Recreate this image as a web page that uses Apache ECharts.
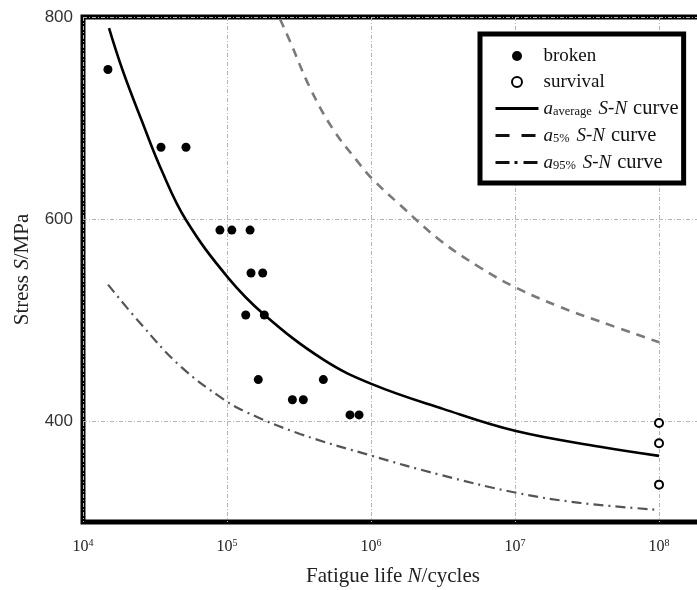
<!DOCTYPE html>
<html><head><meta charset="utf-8">
<script src="https://cdn.jsdelivr.net/npm/echarts@6/dist/echarts.min.js"></script>
<style>html,body{margin:0;padding:0;background:#fff}#c{width:697px;height:590px}</style>
</head><body><div id="c"></div>
<script>
// ---- data ----
const brokenLife   = [14900, 34800, 51900, 89300, 108000, 144600, 146800, 177000, 134900, 181600, 164900, 466500, 284500, 338800, 714600, 826000];
const brokenStress = [748, 671, 671, 589, 589, 589, 546.5, 546.5, 505, 505, 441, 441, 421, 421, 406, 406];
const survivalLife   = [1e8, 1e8, 1e8];
const survivalStress = [398, 378, 337];
const avgLife   = [15160, 18870, 25560, 35200, 51920, 101600, 180700, 464200, 1016000, 3162000, 1.016e7, 3.89e7, 1.0e8];
const avgStress = [789, 747, 697.5, 648, 599, 542, 505.5, 461, 436.5, 412, 390, 374.5, 365.5];
const p5Life   = [233500, 273800, 376700, 544300, 795600, 1016000, 1589000, 3013000, 5710000, 1.016e7, 2.05e7, 3.89e7, 1.0e8];
const p5Stress = [798, 776, 730, 689, 658, 640, 614, 579, 552, 532, 513, 498.5, 478];
const p95Life   = [14930, 24900, 47200, 94160, 137000, 321400, 1016000, 3010000, 1.016e7, 2.82e7, 1.0e8];
const p95Stress = [535, 497, 454.5, 421.7, 408.6, 387.2, 365.5, 346.8, 329, 319, 312];
const yTickLabels = [400, 600, 800];

const zip = (a, b) => a.map((v, i) => [v, b[i]]);
const serif = 'Liberation Serif';

const legendLabels = {
  broken: 'broken',
  survival: 'survival',
  average: '{i|a}{sub|average} {i|S}-{i|N}{c|curve}',
  p5: '{i|a}{sub|5%} {i|S}-{i|N}{c|curve}',
  p95: '{i|a}{sub|95%} {i|S}-{i|N}{c|curve}'
};

const hiddenDot = {opacity: 0};

const chart = echarts.init(document.getElementById('c'), null, {renderer: 'canvas'});
chart.setOption({
  animation: false,
  backgroundColor: '#fff',
  grid: {left: 83, top: 17, width: 630, bottom: 68, show: true, borderColor: '#000', borderWidth: 5,
         backgroundColor: 'transparent', containLabel: false, outerBoundsMode: 'none'},
  xAxis: {
    type: 'log', logBase: 10, min: 1e4, max: 2.371e8,
    axisLine: {show: false}, axisTick: {show: false},
    splitLine: {show: true, lineStyle: {color: '#b5b5b5', width: 1, type: [4, 2, 1, 2]}},
    axisLabel: {
      margin: 16,
      formatter: v => {
        const e = Math.log10(v);
        if (Math.abs(e - Math.round(e)) > 0.01) return '';
        return '{b|10}{s|' + Math.round(e) + '}';
      },
      rich: {
        b: {fontFamily: serif, fontSize: 16, color: '#222', lineHeight: 18},
        s: {fontFamily: serif, fontSize: 10, color: '#222', lineHeight: 10, verticalAlign: 'top'}
      }
    },
    name: '{n|Fatigue life }{i|N}{n|/cycles}',
    nameLocation: 'middle', nameGap: 44,
    nameTextStyle: {
      padding: [0, 10, 0, 0],
      rich: {
        n: {fontFamily: serif, fontSize: 21, color: '#222'},
        i: {fontFamily: serif, fontSize: 21, color: '#222', fontStyle: 'italic'}
      }
    }
  },
  yAxis: {
    type: 'value', min: 300, max: 800, interval: 100,
    axisLine: {show: false}, axisTick: {show: false},
    splitLine: {show: true, lineStyle: {color: ['rgba(0,0,0,0)', '#b5b5b5'], width: 1, type: [4, 2, 1, 2]}},
    axisLabel: {
      margin: 10,
      fontFamily: 'Liberation Sans', fontSize: 17, color: '#333',
      formatter: v => yTickLabels.indexOf(v) >= 0 ? String(v) : ''
    },
    name: '{n|Stress }{i|S}{n|/MPa}',
    nameLocation: 'middle', nameGap: 50,
    nameTextStyle: {
      rich: {
        n: {fontFamily: serif, fontSize: 21, color: '#222'},
        i: {fontFamily: serif, fontSize: 21, color: '#222', fontStyle: 'italic'}
      }
    }
  },
  legend: {
    orient: 'vertical', left: 480, top: 34, align: 'left',
    padding: [12, 5, 10, 14],
    borderColor: '#000', borderWidth: 5, backgroundColor: '#fff',
    itemWidth: 43, itemHeight: 10, itemGap: 6,
    textStyle: {
      fontFamily: serif, fontSize: 19, color: '#111', lineHeight: 20,
      rich: {
        i: {fontFamily: serif, fontSize: 19, fontStyle: 'italic', color: '#111', lineHeight: 20},
        sub: {fontFamily: serif, fontSize: 12.5, color: '#111', lineHeight: 12, verticalAlign: 'bottom', padding: [4, 2, 0, 0]},
        c: {fontFamily: serif, fontSize: 20.5, color: '#111', lineHeight: 20, padding: [0, 0, 0, 6]}
      }
    },
    formatter: name => legendLabels[name],
    data: [
      {name: 'broken', itemStyle: {opacity: 1}},
      {name: 'survival', itemStyle: {opacity: 1, borderWidth: 1.5}},
      {name: 'average', itemStyle: hiddenDot, lineStyle: {color: '#000', width: 3, type: 'solid'}},
      {name: 'p5', itemStyle: hiddenDot, lineStyle: {color: '#111', width: 3, type: [14, 12]}},
      {name: 'p95', itemStyle: hiddenDot, lineStyle: {color: '#111', width: 3, type: [14, 5, 3, 6]}}
    ]
  },
  series: [
    {name: 'broken', type: 'scatter', symbol: 'circle', symbolSize: 9, itemStyle: {color: '#000', opacity: 1}, data: zip(brokenLife, brokenStress), z: 5},
    {name: 'survival', type: 'scatter', symbol: 'emptyCircle', symbolSize: 8, itemStyle: {color: '#000', borderWidth: 2.2, opacity: 1}, data: zip(survivalLife, survivalStress), z: 5},
    {name: 'average', type: 'line', smooth: 0.4, symbol: 'none', lineStyle: {color: '#000', width: 2.6}, itemStyle: {color: '#000'}, data: zip(avgLife, avgStress)},
    {name: 'p5', type: 'line', smooth: 0.4, symbol: 'none', lineStyle: {color: '#7a7a7a', width: 2.6, type: [9, 7]}, itemStyle: {color: '#7a7a7a'}, data: zip(p5Life, p5Stress)},
    {name: 'p95', type: 'line', smooth: 0.4, symbol: 'none', lineStyle: {color: '#555', width: 2.2, type: [10, 5, 2, 5]}, itemStyle: {color: '#555'}, data: zip(p95Life, p95Stress)}
  ]
});
</script>
</body></html>
